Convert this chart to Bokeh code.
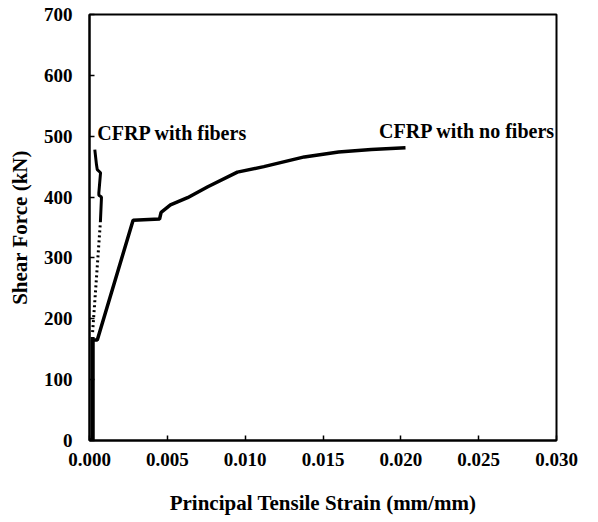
from bokeh.plotting import figure
from bokeh.models import Range1d, FixedTicker, Label
from bokeh.embed import file_html
from bokeh.resources import INLINE

# CFRP with no fibers (solid)
nof_strain = [0.0, 0.0002, 0.0002, 0.0005, 0.0028, 0.0045, 0.0046, 0.0052, 0.0063, 0.0076,
              0.0095, 0.0112, 0.0138, 0.0160, 0.0181, 0.0203]
nof_force = [0, 2, 165, 165, 362, 364, 375, 387, 399, 417,
             441, 450, 466, 474, 478, 481]

# CFRP with fibers: vertical start, dotted rise, then solid jagged top
wf_base_strain = [0.0, 0.0002, 0.0002]
wf_base_force = [0, 0, 170]
wf_dot_strain = [0.0002, 0.0007]
wf_dot_force = [178, 359]
wf_top_strain = [0.0007, 0.00077, 0.0006, 0.0006, 0.00071, 0.0005, 0.00045, 0.00034]
wf_top_force = [359, 400, 403, 407, 440, 445, 453, 478]

x_ticks = [0.0, 0.005, 0.010, 0.015, 0.020, 0.025, 0.030]
y_ticks = [0, 100, 200, 300, 400, 500, 600, 700]

FONT = "Liberation Serif"

p = figure(width=598, height=522, output_backend="svg", toolbar_location=None,
           x_range=Range1d(0, 0.030), y_range=Range1d(0, 700),
           min_border_left=89, min_border_right=42, min_border_top=14, min_border_bottom=82)
p.background_fill_color = "white"
p.border_fill_color = "white"
p.outline_line_color = "black"
p.outline_line_width = 2
p.grid.visible = False

p.xaxis.ticker = FixedTicker(ticks=x_ticks)
p.yaxis.ticker = FixedTicker(ticks=y_ticks)
p.xaxis.major_label_overrides = {t: f"{t:.3f}" for t in x_ticks}
for ax in (p.xaxis[0], p.yaxis[0]):
    ax.axis_line_color = "black"
    ax.axis_line_width = 2
    ax.major_tick_in = 5
    ax.major_tick_out = 0
    ax.major_tick_line_width = 1.5
    ax.minor_tick_line_color = None
    ax.major_label_text_font = FONT
    ax.major_label_text_font_style = "bold"
    ax.major_label_text_font_size = "19px"
    ax.major_label_text_color = "black"
    ax.axis_label_text_font = FONT
    ax.axis_label_text_font_style = "bold"
    ax.axis_label_text_font_size = "21px"
    ax.axis_label_text_color = "black"

p.xaxis.axis_label = "Principal Tensile Strain (mm/mm)"
p.yaxis.axis_label = "Shear Force (kN)"
p.xaxis.major_label_standoff = 12
p.yaxis.major_label_standoff = 17
p.xaxis.axis_label_standoff = 22
p.yaxis.axis_label_standoff = 9

p.line(nof_strain, nof_force, line_color="black", line_width=3.5)
p.line(wf_base_strain, wf_base_force, line_color="black", line_width=4)
p.line(wf_dot_strain, wf_dot_force, line_color="black", line_width=3, line_dash="2 3")
p.line(wf_top_strain, wf_top_force, line_color="black", line_width=3)

p.add_layout(Label(x=0.0005, y=506, text="CFRP with fibers", text_font=FONT,
                   text_font_style="bold", text_font_size="20px", text_baseline="middle",
                   text_color="black"))
p.add_layout(Label(x=0.0186, y=509, text="CFRP with no fibers", text_font=FONT,
                   text_font_style="bold", text_font_size="20px", text_baseline="middle",
                   text_color="black"))

open("out.html", "w").write(file_html(p, INLINE))
